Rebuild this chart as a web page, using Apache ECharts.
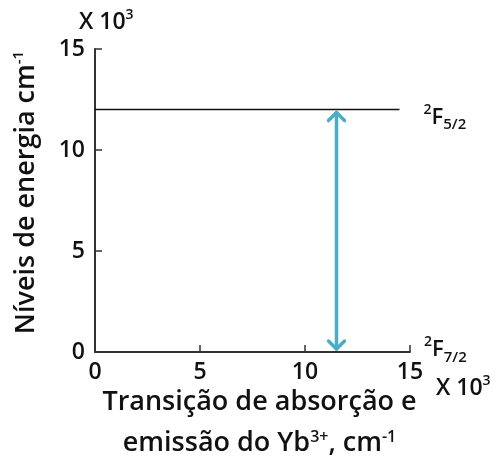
<!DOCTYPE html>
<html>
<head>
<meta charset="utf-8">
<script src="https://cdn.jsdelivr.net/npm/echarts@6/dist/echarts.min.js"></script>
<style>
html,body{margin:0;padding:0;background:#fff;}
#c{width:498px;height:461px;}
</style>
</head>
<body>
<div id="c"></div>
<script>
// ---- data ----
const xTicks = [0, 5, 10, 15];
const yTicks = [0, 5, 10, 15];
const upperLevel = [[0, 12], [14.5, 12]];       // 2F5/2 level line
const lowerLevel = [[0, 0], [15, 0]];           // 2F7/2 level line
const transition = [[11.5, 0, 12]];             // x, from, to (double arrow)
const upperLabel = ['2', 'F', '5/2'];
const lowerLabel = ['2', 'F', '7/2'];
const scaleLabel = ['X 10', '3'];

const FONT = '"Open Sans"';
const W = 600;
const TXT = '#111';
const ARROW = '#4BACC6';

const chart = echarts.init(document.getElementById('c'), null, {renderer: 'canvas'});

const levelRich = {
  sup: {fontFamily: FONT, fontWeight: W, fontSize: 14, color: TXT, verticalAlign: 'top', lineHeight: 18},
  main: {fontFamily: FONT, fontWeight: W, fontSize: 22, color: TXT, lineHeight: 30},
  sub: {fontFamily: FONT, fontWeight: W, fontSize: 15, color: TXT, verticalAlign: 'bottom', lineHeight: 18}
};
const lvl = (a) => '{sup|' + a[0] + '}{main|' + a[1] + '}{sub|' + a[2] + '}';

const nameRich = {
  n: {fontFamily: FONT, fontWeight: W, fontSize: 27, color: TXT, lineHeight: 41},
  s: {fontFamily: FONT, fontWeight: W, fontSize: 16, color: TXT, verticalAlign: 'top', padding: [7, 0, 0, 0]}
};
const scaleRich = {
  n: {fontFamily: FONT, fontWeight: W, fontSize: 23, fill: TXT, lineHeight: 28},
  s: {fontFamily: FONT, fontWeight: W, fontSize: 14, fill: TXT, lineHeight: 20, verticalAlign: 'top'}
};

chart.setOption({
  animation: false,
  backgroundColor: '#fff',
  textStyle: {fontFamily: FONT},
  grid: {left: 95, right: 88, top: 49, bottom: 109, containLabel: false, outerBoundsMode: 'none'},
  xAxis: {
    type: 'value', min: xTicks[0], max: xTicks[xTicks.length - 1], interval: 5,
    axisLine: {show: true, lineStyle: {color: '#333', width: 2}},
    axisTick: {show: true, inside: true, length: 7, lineStyle: {color: '#333', width: 1.5}},
    axisLabel: {fontFamily: FONT, fontWeight: W, fontSize: 23, color: TXT, margin: 9},
    splitLine: {show: false},
    name: '{n|Transição de absorção e}\n{n|emissão do Yb}{s|3+}{n|, cm}{s|-1}',
    nameLocation: 'middle', nameGap: 17,
    nameTextStyle: {rich: nameRich, padding: [0, 0, 0, 14]}
  },
  yAxis: {
    type: 'value', min: yTicks[0], max: yTicks[yTicks.length - 1], interval: 5,
    axisLine: {show: true, lineStyle: {color: '#333', width: 2}},
    axisTick: {show: true, inside: true, length: 7, lineStyle: {color: '#333', width: 1.5}},
    axisLabel: {fontFamily: FONT, fontWeight: W, fontSize: 23, color: TXT, margin: 10},
    splitLine: {show: false},
    name: '{n|Níveis de energia cm}{s|-1}',
    nameLocation: 'middle', nameGap: 52,
    nameTextStyle: {padding: [0, 0, 0, 16], rich: {
      n: {fontFamily: FONT, fontWeight: W, fontSize: 27, color: TXT, lineHeight: 34},
      s: {fontFamily: FONT, fontWeight: W, fontSize: 15, color: TXT, verticalAlign: 'top', padding: [2, 0, 0, 0]}
    }}
  },
  graphic: [
    {type: 'text', left: 79, top: 8, style: {
      text: '{n|' + scaleLabel[0] + '}{s|' + scaleLabel[1] + '}', rich: scaleRich
    }},
    {type: 'text', left: 436, top: 374, style: {
      text: '{n|' + scaleLabel[0] + '}{s|' + scaleLabel[1] + '}', rich: scaleRich
    }}
  ],
  series: [
    {
      type: 'line', data: upperLevel, symbol: 'none', silent: true,
      lineStyle: {color: '#111', width: 1.5},
      endLabel: {show: true, formatter: () => lvl(upperLabel), distance: 24, offset: [0, 8], rich: levelRich}
    },
    {
      type: 'line', data: lowerLevel, symbol: 'none', silent: true,
      lineStyle: {color: '#333', width: 2},
      endLabel: {show: true, formatter: () => lvl(lowerLabel), distance: 14, offset: [0, -2], rich: levelRich}
    },
    {
      type: 'custom', data: transition, silent: true, clip: false,
      encode: {x: 0, y: [1, 2]},
      renderItem: function (params, api) {
        const a = api.coord([api.value(0), api.value(1)]);
        const b = api.coord([api.value(0), api.value(2)]);
        const s = 8, w = 3.5;
        const st = {stroke: ARROW, lineWidth: w, fill: null, lineCap: 'round', lineJoin: 'round'};
        return {type: 'group', children: [
          {type: 'line', shape: {x1: a[0], y1: a[1] - 3, x2: b[0], y2: b[1] + 3}, style: st},
          {type: 'polyline', shape: {points: [[b[0] - s, b[1] + 3 + s], [b[0], b[1] + 3], [b[0] + s, b[1] + 3 + s]]}, style: st},
          {type: 'polyline', shape: {points: [[a[0] - s, a[1] - 3 - s], [a[0], a[1] - 3], [a[0] + s, a[1] - 3 - s]]}, style: st}
        ]};
      }
    }
  ]
});
</script>
</body>
</html>
